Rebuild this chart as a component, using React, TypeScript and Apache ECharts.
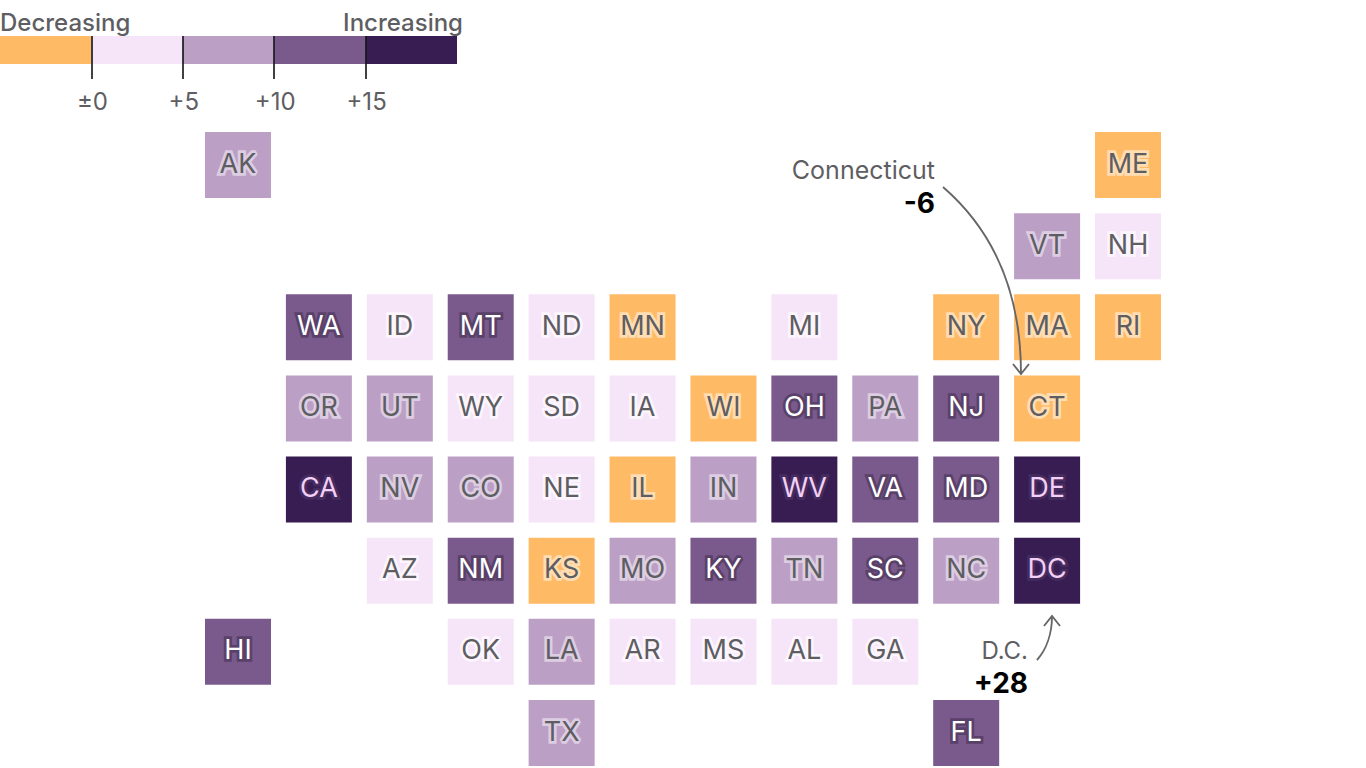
import React, { useEffect, useRef } from "react";
import * as echarts from "echarts";

const states = ["AK","ME","VT","NH","WA","ID","MT","ND","MN","MI","NY","MA","RI","OR","UT","WY","SD","IA","WI","OH","PA","NJ","CT","CA","NV","CO","NE","IL","IN","WV","VA","MD","DE","AZ","NM","KS","MO","KY","TN","SC","NC","DC","HI","OK","LA","AR","MS","AL","GA","TX","FL"];
const cols = [0,11,10,11,1,2,3,4,5,7,9,10,11,1,2,3,4,5,6,7,8,9,10,1,2,3,4,5,6,7,8,9,10,2,3,4,5,6,7,8,9,10,0,3,4,5,6,7,8,4,9];
const rows = [0,0,1,1,2,2,2,2,2,2,2,2,2,3,3,3,3,3,3,3,3,3,3,4,4,4,4,4,4,4,4,4,4,5,5,5,5,5,5,5,5,5,6,6,6,6,6,6,6,7,7];
const changes = [7,-2,8,3,12,3,11,2,-1,4,-2,-3,-1,7,8,2,3,4,-1,12,8,13,-6,16,7,8,3,-2,7,17,12,13,18,4,11,-1,8,12,8,12,7,28,12,4,8,3,4,4,3,7,12];

const legendLows = [-5,0,5,10,15];
const legendHighs = [0,5,10,15,20];
const legendTicks = [0,5,10,15];
const tickLabels = ["±0","+5","+10","+15"];
const binFills = ["#FFBA66","#F6E4F8","#BC9FC5","#7A5A8C","#381D53"];
const binText = ["#5E5E62","#5E5E62","#5E5E62","#FFFFFF","#F4CFF6"];
const binHalo = ["#FFDDB3","#FCF5FD","#DCCDE2","#5A4169","#452C5F"];

const FONT = "Inter, 'Noto Sans', sans-serif";
const INK = "#5E5E62";

const binOf = (v: number) => {
  for (let i = 0; i < legendHighs.length - 1; i++) if (v < legendHighs[i]) return i;
  return legendHighs.length - 1;
};

export default function App() {
  const ref = useRef<HTMLDivElement>(null);
  useEffect(() => {
    document.body.style.margin = "0";
    const chart = echarts.init(ref.current!, undefined, { renderer: "svg" });
    const arrow = (shape: any, head: number[][]) => [
      { type: "bezierCurve", shape, style: { stroke: "#666666", lineWidth: 1.9, fill: "none" }, z: 20 },
      { type: "polyline", shape: { points: head }, style: { stroke: "#666666", lineWidth: 1.9, fill: "none" }, z: 20 },
    ];
    const txt = (text: string, x: number, y: number, size: number, weight: number, fill: string, align = "right") => ({
      type: "text", x, y, z: 20,
      style: { text, fill, font: `${weight} ${size}px ${FONT}`, textAlign: align, textVerticalAlign: "middle" },
    });
    chart.setOption({
      animation: false,
      backgroundColor: "#ffffff",
      textStyle: { fontFamily: FONT },
      grid: [
        { left: 238, top: 165, width: 890, height: 568 },
        { left: -2, top: 36, width: 459, height: 28 },
      ],
      xAxis: [
        { type: "value", gridIndex: 0, min: 0, max: 11, show: false },
        {
          type: "value", gridIndex: 1, min: -5, max: 20, position: "top", z: 5,
          splitLine: { show: false },
          axisLine: { show: false, onZero: false },
          axisTick: { show: true, inside: true, length: 43, customValues: legendTicks, lineStyle: { color: "#111111", width: 1.6 } },
          axisLabel: {
            show: true, inside: true, margin: 53, customValues: legendTicks, color: INK, fontSize: 24, fontFamily: FONT,
            padding: [0, 0, 0, 2],
            formatter: (v: number) => tickLabels[legendTicks.indexOf(v)] ?? "",
          },
        },
      ],
      yAxis: [
        { type: "value", gridIndex: 0, min: 0, max: 7, inverse: true, show: false },
        { type: "value", gridIndex: 1, min: 0, max: 1, show: false },
      ],
      series: [
        {
          type: "custom", xAxisIndex: 0, yAxisIndex: 0, clip: false, z: 2,
          data: states.map((s, i) => [cols[i], rows[i], changes[i], s]),
          renderItem: (_p: any, api: any) => {
            const c = api.coord([api.value(0), api.value(1)]);
            const b = binOf(api.value(2));
            const name = states[_p.dataIndex];
            return {
              type: "group",
              children: [
                { type: "rect", shape: { x: c[0] - 33, y: c[1] - 33, width: 66, height: 66 }, style: { fill: binFills[b] } },
                {
                  type: "text", x: c[0], y: c[1] - 2,
                  style: {
                    text: name, fill: binText[b], stroke: binHalo[b], lineWidth: 5.5, strokeFirst: true,
                    font: `400 27px ${FONT}`, textAlign: "center", textVerticalAlign: "middle",
                  },
                },
              ],
            };
          },
        },
        {
          type: "custom", xAxisIndex: 1, yAxisIndex: 1, clip: false, z: 1,
          data: legendLows.map((l, i) => [l, legendHighs[i]]),
          renderItem: (p: any, api: any) => {
            const a = api.coord([api.value(0), 1]);
            const e = api.coord([api.value(1), 0]);
            return { type: "rect", shape: { x: a[0], y: a[1], width: e[0] - a[0], height: e[1] - a[1] }, style: { fill: binFills[p.dataIndex] } };
          },
        },
      ],
      graphic: [
        txt("Decreasing", 0, 22, 24, 500, INK, "left"),
        txt("Increasing", 463, 22, 24, 500, INK, "right"),
        txt("Connecticut", 935, 170, 25, 400, INK),
        txt("-6", 935, 203, 28, 700, "#000000"),
        txt("D.C.", 1028, 650, 24, 400, INK),
        txt("+28", 1028, 683, 28, 700, "#000000"),
        ...arrow({ x1: 943, y1: 187, cpx1: 995, cpy1: 232, cpx2: 1021, cpy2: 295, x2: 1021, y2: 374 }, [[1013, 364], [1021, 374], [1029, 364]]),
        ...arrow({ x1: 1037, y1: 660, cpx1: 1046, cpy1: 650, cpx2: 1052, cpy2: 634, x2: 1052, y2: 616 }, [[1044, 626], [1052, 616], [1060, 626]]),
      ],
    });
    return () => chart.dispose();
  }, []);
  return <div ref={ref} style={{ position: "fixed", left: 0, top: 0, width: 1366, height: 768 }} />;
}
